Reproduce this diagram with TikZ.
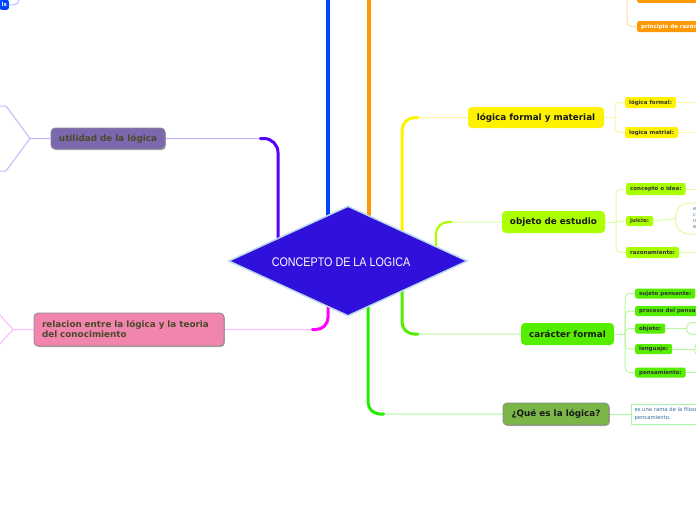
\documentclass[tikz,border=0pt]{standalone}
\usepackage{fontspec}
\newfontfamily\dvs{DejaVu Sans}
\newfontfamily\narrowf[FakeStretch=0.86]{Liberation Sans}
\usetikzlibrary{shapes.geometric,shadows,calc}
\pgfdeclarelayer{bg}
\pgfsetlayers{bg,main}
\definecolor{cBlue}{HTML}{0044FF}
\definecolor{cBlueL}{HTML}{A8C4FF}
\definecolor{cOrange}{HTML}{FF9900}
\definecolor{cOrangeL}{HTML}{FFDDA8}
\definecolor{cPurple}{HTML}{5500FF}
\definecolor{cPurpleL}{HTML}{C4B4FF}
\definecolor{cMag}{HTML}{FF00FF}
\definecolor{cMagL}{HTML}{FFB8FF}
\definecolor{cYel}{HTML}{FFF200}
\definecolor{cYelL}{HTML}{FFF6A0}
\definecolor{cLime}{HTML}{AAFF00}
\definecolor{cLimeL}{HTML}{DDFFA0}
\definecolor{cGreen}{HTML}{55EE00}
\definecolor{cGreenL}{HTML}{BBF7A0}
\definecolor{cGreen2}{HTML}{22EE00}
\definecolor{cGreen2L}{HTML}{A8F7A8}
\definecolor{rootfill}{HTML}{3010DB}
\definecolor{rootline}{HTML}{BBD8F0}
\definecolor{utilfill}{HTML}{7B68AE}
\definecolor{relfill}{HTML}{F285AE}
\definecolor{quefill}{HTML}{7AB648}
\definecolor{olivetext}{HTML}{4A4A2A}
\definecolor{notetext}{HTML}{3A6E9A}
\begin{document}
\begin{tikzpicture}[x=1pt,y=-1pt,
  mainnode/.style={rounded corners=4pt, font=\dvs\bfseries\fontsize{8.8}{10}\selectfont, inner sep=0pt, text=black!90},
  childnode/.style={rounded corners=2pt, font=\dvs\bfseries\fontsize{5.5}{6.5}\selectfont, inner xsep=4pt, inner ysep=0pt, minimum height=10pt, anchor=west, text=black!80},
  boxed/.style={draw=black!45, line width=0.8pt, drop shadow={shadow xshift=0.8pt, shadow yshift=-1pt, opacity=0.35, fill=black}},
  thickc/.style={line width=3pt, line cap=round},
  thinc/.style={line width=1pt},
  bubble/.style={anchor=west, fill=white, line width=1pt, inner sep=2pt, align=left, font=\dvs\fontsize{5}{6}\selectfont, text=notetext},
]
\useasboundingbox (0,0) rectangle (696,520);
\clip (0,0) rectangle (696,520);

% root
\node[diamond, aspect=2.17, fill=rootfill, draw=rootline, line width=1.5pt, minimum width=239pt, minimum height=110pt, inner sep=0pt] (root) at (348,261) {};
\node[font=\narrowf\fontsize{12.5}{14}\selectfont, text=white, inner sep=0pt] (roottxt) at (341,262) {CONCEPTO DE LA LOGICA};

% main topics
\node[mainnode, boxed, fill=utilfill, text=olivetext, minimum width=114pt, minimum height=21pt] (util) at (108,138.5) {utilidad de la lógica};
\node[mainnode, boxed, fill=relfill, text=olivetext, minimum width=190pt, minimum height=33pt, inner xsep=8pt, text width=174pt, align=left] (rel) at (129,329.5) {relacion entre la lógica y la teoria\\del conocimiento};
\node[mainnode, fill=cYel, minimum width=136pt, minimum height=21pt] (lfm) at (536,117.5) {lógica formal y material};
\node[mainnode, fill=cLime, minimum width=103pt, minimum height=22pt] (obj) at (553.5,222) {objeto de estudio};
\node[mainnode, fill=cGreen, minimum width=93pt, minimum height=22pt] (car) at (567.5,334) {carácter formal};
\node[mainnode, boxed, fill=quefill, minimum width=106pt, minimum height=22pt] (que) at (556,414) {¿Qué es la lógica?};

% top-left blue node
\node[childnode, anchor=south east, fill=cBlue, text=white, inner xsep=2pt] (bl) at (9,10) {ls};
\coordinate (blTop) at (19,-10);
% top-right orange nodes
\node[childnode, anchor=south west, fill=cOrange, minimum width=70pt] (or1) at (637,3) {};
\node[childnode, fill=cOrange, text=white, minimum height=11pt] (or2) at (637,26.5) {principio de razón};
\coordinate (orTop) at (627,-10);

% children of lógica formal y material
\node[childnode, fill=cYel, minimum height=11pt] (lf1) at (625,102.5) {lógica formal:};
\node[childnode, fill=cYel, minimum height=11pt] (lf2) at (625,132.5) {logica matrial:};
% children of objeto de estudio
\node[childnode, fill=cLime, minimum height=12pt] (o1) at (626,189) {concepto o idea:};
\node[childnode, fill=cLime] (o2) at (626,221) {juicio:};
\node[childnode, fill=cLime, minimum height=11pt] (o3) at (626,252.5) {razonamiento:};
\node[bubble, draw=cLimeL, rounded corners=13pt, minimum height=31pt, minimum width=60pt, inner xsep=17pt] (o2b) at (675,218.5) {es\\contenido\\relación\\entre};
% children of carácter formal
\node[childnode, fill=cGreen] (c1) at (635,293.5) {sujeto pensante:};
\node[childnode, fill=cGreen] (c2) at (635,311) {proceso del pensamiento:};
\node[childnode, fill=cGreen] (c3) at (635,328.5) {objeto:};
\node[childnode, fill=cGreen] (c4) at (635,349) {lenguaje:};
\node[childnode, fill=cGreen] (c5) at (635,372.5) {pensamiento:};
\node[bubble, draw=cGreenL, rounded corners=6pt, minimum height=12pt, minimum width=40pt] (c3b) at (686,328.5) {};
\node[bubble, draw=cGreenL, rounded corners=8pt, minimum height=16pt, minimum width=40pt] (c4b) at (694,349) {};
% note of ¿Qué es la lógica?
\node[bubble, draw=cGreen2L, minimum height=20pt, inner xsep=3pt, font=\dvs\fontsize{5.3}{7.5}\selectfont] (note) at (631,414) {es una rama de la filosofía que estudia el\\pensamiento.};

\coordinate (blueTop) at (328,-10);
\coordinate (orangeTop) at (369,-10);
\coordinate (uJ) at (30,138.5);
\coordinate (uA) at (6,106);
\coordinate (uA2) at (-5,106);
\coordinate (uB) at (6,171);
\coordinate (uB2) at (-5,171);
\coordinate (rJ) at (13,329.5);
\coordinate (rA) at (-2,313);
\coordinate (rB) at (-2,346);
\coordinate (lfmJ) at ([xshift=11]lfm.east);
\coordinate (objJ) at ([xshift=11]obj.east);
\coordinate (carJ) at ([xshift=11]car.east);

\begin{pgfonlayer}{bg}
% trunk lines through the top
\draw[cBlue, line width=3.5pt] ($(root.center)+(-20,0)$) -- (blueTop);
\draw[cOrange, line width=3.5pt] ($(root.center)+(21,0)$) -- (orangeTop);
% purple
\draw[cPurpleL, thinc, rounded corners=14pt] ($(root.center)+(-70,0)$) |- (util.east);
\draw[cPurple, thickc, rounded corners=14pt] ($(root.center)+(-70,0)$) |- ([xshift=95]util.east);
\draw[cPurpleL, thinc] (util.west) -- (uJ) -- (uA) -- (uA2);
\draw[cPurpleL, thinc] (uJ) -- (uB) -- (uB2);
% magenta
\draw[cMagL, thinc, rounded corners=12pt] ($(root.center)+(-20,0)$) |- (rel.east);
\draw[cMag, thickc, rounded corners=12pt] ($(root.center)+(-20,0)$) |- ([xshift=88]rel.east);
\draw[cMagL, thinc] (rel.west) -- (rJ) -- (rA);
\draw[cMagL, thinc] (rJ) -- (rB);
% yellow
\draw[cYelL, thinc, rounded corners=13pt] ($(root.center)+(54,0)$) |- (lfm.west);
\draw[cYel, thickc, rounded corners=13pt] ($(root.center)+(54,0)$) |- ([xshift=-50]lfm.west);
\draw[cYelL, thinc] (lfm.east) -- (lfmJ);
\draw[cYelL, thinc, rounded corners=4pt] (lfmJ) |- (lf1.west);
\draw[cYelL, thinc, rounded corners=4pt] (lfmJ) |- (lf2.west);
\draw[cYelL, thinc] (lf1.east) -- ++(40,0);
\draw[cYelL, thinc] (lf2.east) -- ++(40,0);
% lime
\draw[cLimeL, thinc, rounded corners=12pt] ($(root.center)+(88,0)$) |- (obj.west);
\draw[cLime, line width=2.2pt, rounded corners=12pt] ($(root.center)+(88,0)$) |- ([xshift=-50]obj.west);
\draw[cLimeL, thinc] (obj.east) -- (objJ);
\draw[cLimeL, thinc, rounded corners=4pt] (objJ) |- (o1.west);
\draw[cLimeL, thinc] (objJ) -- (o2.west);
\draw[cLimeL, thinc, rounded corners=4pt] (objJ) |- (o3.west);
\draw[cLimeL, thinc] (o1.east) -- ++(40,0);
\draw[cLimeL, thinc] (o2.east) -- (o2b.west);
\draw[cLimeL, thinc] (o3.east) -- ++(40,0);
% green (carácter formal)
\draw[cGreenL, thinc, rounded corners=12pt] ($(root.center)+(54,0)$) |- (car.west);
\draw[cGreen, thickc, rounded corners=12pt] ($(root.center)+(54,0)$) |- ([xshift=-103]car.west);
\draw[cGreenL, thinc] (car.east) -- (carJ);
\draw[cGreenL, thinc, rounded corners=4pt] (carJ) |- (c1.west);
\draw[cGreenL, thinc, rounded corners=4pt] (carJ) |- (c2.west);
\draw[cGreenL, thinc, rounded corners=4pt] (carJ) |- (c3.west);
\draw[cGreenL, thinc, rounded corners=4pt] (carJ) |- (c4.west);
\draw[cGreenL, thinc, rounded corners=4pt] (carJ) |- (c5.west);
\draw[cGreenL, thinc] (c1.east) -- ++(40,0);
\draw[cGreenL, thinc] (c3.east) -- (c3b.west);
\draw[cGreenL, thinc] (c4.east) -- (c4b.west);
\draw[cGreenL, thinc] (c5.east) -- ++(40,0);
% green (¿Qué es la lógica?)
\draw[cGreen2L, thinc, rounded corners=12pt] ($(root.center)+(20,0)$) |- (que.west);
\draw[cGreen2, thickc, rounded corners=12pt] ($(root.center)+(20,0)$) |- ([xshift=-119]que.west);
\draw[cGreen2L, thinc] (que.east) -- (note.west);
% top corners
\draw[cBlueL, thinc, rounded corners=5pt] (bl.east) -| (blTop);
\draw[cOrangeL, thinc, rounded corners=5pt] (orTop) |- (or2.west);
\draw[cOrangeL, thinc, rounded corners=5pt] (orTop) |- (or1.west);
\end{pgfonlayer}
\end{tikzpicture}
\end{document}
